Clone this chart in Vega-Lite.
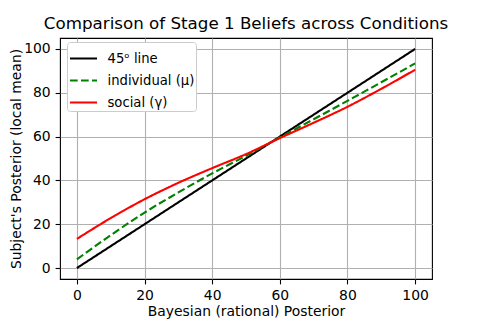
{
  "$schema": "https://vega.github.io/schema/vega-lite/v6.json",
  "width": 372,
  "height": 241,
  "autosize": {"type": "none"},
  "padding": {"left": 60, "top": 38, "right": 48, "bottom": 41},
  "background": "white",
  "title": {"text": "Comparison of Stage 1 Beliefs across Conditions", "anchor": "middle", "frame": "group", "offset": 5, "fontSize": 16.7, "fontWeight": "normal", "font": "DejaVu Sans", "color": "black"},
  "config": {
    "view": {"stroke": "black", "strokeWidth": 1.1},
    "axis": {"labelFont": "DejaVu Sans", "titleFont": "DejaVu Sans", "labelFontSize": 13.9, "titleFontSize": 13.9, "titleFontWeight": "normal", "labelColor": "black", "titleColor": "black", "tickColor": "black", "tickSize": 4.9, "tickWidth": 1.1, "domain": false, "gridColor": "#b0b0b0", "gridWidth": 1.1, "gridOpacity": 1, "labelPadding": 4.9}
  },
  "data": {"values": [
    {"x": 0, "y": 0, "series": "45ᵒ line"},
    {"x": 100, "y": 100, "series": "45ᵒ line"},
    {"x": 0, "y": 4, "series": "individual (μ)"},
    {"x": 10, "y": 15, "series": "individual (μ)"},
    {"x": 20, "y": 25.3, "series": "individual (μ)"},
    {"x": 30, "y": 34.5, "series": "individual (μ)"},
    {"x": 40, "y": 43.2, "series": "individual (μ)"},
    {"x": 50, "y": 51.2, "series": "individual (μ)"},
    {"x": 60, "y": 59.6, "series": "individual (μ)"},
    {"x": 70, "y": 67.9, "series": "individual (μ)"},
    {"x": 80, "y": 76.3, "series": "individual (μ)"},
    {"x": 90, "y": 84.8, "series": "individual (μ)"},
    {"x": 100, "y": 93.4, "series": "individual (μ)"},
    {"x": 0, "y": 13.3, "series": "social (γ)"},
    {"x": 10, "y": 22.8, "series": "social (γ)"},
    {"x": 20, "y": 31.4, "series": "social (γ)"},
    {"x": 30, "y": 38.9, "series": "social (γ)"},
    {"x": 40, "y": 45.6, "series": "social (γ)"},
    {"x": 50, "y": 52, "series": "social (γ)"},
    {"x": 60, "y": 59.3, "series": "social (γ)"},
    {"x": 70, "y": 66.3, "series": "social (γ)"},
    {"x": 80, "y": 73.6, "series": "social (γ)"},
    {"x": 90, "y": 81.8, "series": "social (γ)"},
    {"x": 100, "y": 90.5, "series": "social (γ)"}
  ]},
  "mark": {"type": "line", "strokeWidth": 2.1, "interpolate": "monotone"},
  "encoding": {
    "x": {"field": "x", "type": "quantitative", "scale": {"domain": [-5, 105], "nice": false, "zero": false}, "axis": {"values": [0, 20, 40, 60, 80, 100], "title": "Bayesian (rational) Posterior", "titlePadding": 2}},
    "y": {"field": "y", "type": "quantitative", "scale": {"domain": [-5, 105], "nice": false, "zero": false}, "axis": {"values": [0, 20, 40, 60, 80, 100], "title": "Subject's Posterior (local mean)", "titlePadding": 0}},
    "color": {"field": "series", "type": "nominal", "scale": {"domain": ["45ᵒ line", "individual (μ)", "social (γ)"], "range": ["black", "green", "red"]},
      "legend": {"title": null, "orient": "none", "legendX": 7, "legendY": 4, "symbolType": "stroke", "symbolSize": 729, "symbolStrokeWidth": 2.1, "labelFont": "DejaVu Sans", "labelFontSize": 13.2, "labelColor": "black", "labelOffset": 9, "rowPadding": -6.5, "padding": 1.5, "strokeColor": "#cccccc", "fillColor": "white", "cornerRadius": 3}},
    "strokeDash": {"field": "series", "type": "nominal", "scale": {"domain": ["45ᵒ line", "individual (μ)", "social (γ)"], "range": [[1, 0], [7.7, 3.3], [1, 0]]}, "legend": null}
  }
}
